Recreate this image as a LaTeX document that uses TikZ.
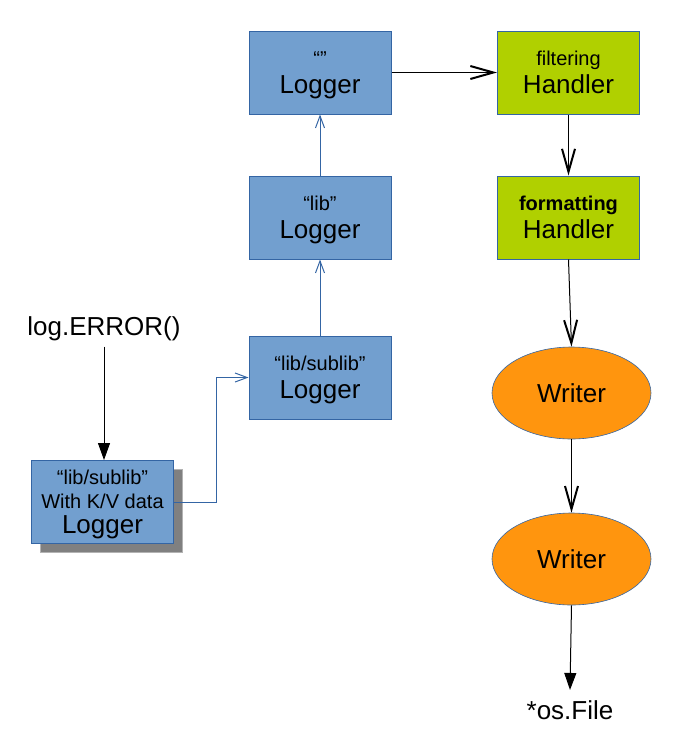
\documentclass[tikz,border=0pt]{standalone}
\usepackage{fontspec}
\setmainfont{Liberation Sans}
\usetikzlibrary{arrows.meta,shapes.geometric,shadows}

\definecolor{loggerblue}{HTML}{729FCF}
\definecolor{loggeredge}{HTML}{3465A4}
\definecolor{handlergreen}{HTML}{B0D000}
\definecolor{writerorange}{HTML}{FF950E}
\definecolor{shadowgray}{HTML}{808080}
\definecolor{shadowedge}{HTML}{B3B3B3}

\newcommand{\smallfont}{\fontsize{20}{23}\selectfont}
\newcommand{\bigfont}{\fontsize{26}{28}\selectfont}
% small upper line of a box, with room for ascenders and descenders
\newcommand{\boxtitle}[1]{{\smallfont\vphantom{fg}#1}}

\tikzset{
  logger/.style={rectangle, draw=loggeredge, fill=loggerblue, line width=1pt,
    minimum width=142pt, minimum height=83pt, inner sep=0pt, align=center,
    text depth=0pt, font=\bigfont},
  handler/.style={logger, fill=handlergreen},
  writer/.style={ellipse, draw=loggeredge, fill=writerorange, line width=0.6pt,
    minimum width=159pt, minimum height=92pt, inner sep=0pt, font=\bigfont},
  calltext/.style={font=\bigfont, anchor=base},
  flow/.style={line width=1pt, -{Straight Barb[length=23pt,width=13pt,line width=2pt]}},
  uplink/.style={draw=loggeredge, line width=1pt, -{Straight Barb[length=12pt,width=9pt,line width=1pt]}},
  callarrow/.style={line width=1pt, -{Triangle[length=17pt,width=12pt]}},
  kvshadow/.style={general shadow={shadow xshift=9pt, shadow yshift=-9pt, fill=shadowgray, draw=shadowedge}}
}

\begin{document}
\begin{tikzpicture}[x=1pt,y=-1pt]
  \useasboundingbox (0,0) rectangle (699,748);
  % logger chain
  \node[logger] (rootlog) at (320,72.5) {\boxtitle{“”}\\Logger};
  \node[logger] (liblog) at (320,217.5) {\boxtitle{“lib”}\\Logger};
  \node[logger] (sublog) at (320,377.5) {\boxtitle{“lib/sublib”}\\Logger};
  \node[logger, kvshadow] (kvlog) at (102.5,502)
    {\boxtitle{“lib/sublib”}\\[-4pt]\boxtitle{With K/V data}\\[-3pt]Logger};
  % handlers and writers
  \node[handler] (filt) at (568.5,72.5) {\boxtitle{filtering}\\Handler};
  \node[handler] (fmt) at (568.5,217.5) {\boxtitle{\bfseries formatting}\\Handler};
  \node[writer] (wr1) at (571.5,393) {Writer};
  \node[writer] (wr2) at (571.5,559) {Writer};
  % call site and sink
  \node[calltext, inner sep=6pt] (err) at (104,335) {log.ERROR()};
  \node[calltext, inner sep=10pt] (osfile) at (570,719) {*os.File};

  % connectors
  \draw[callarrow] (err.south) -- (err.south |- kvlog.north);
  \draw[uplink] (kvlog.east) -- ++(42,0) |- (sublog.west);
  \draw[uplink] (sublog) -- (liblog);
  \draw[uplink] (liblog) -- (rootlog);
  \draw[flow] (rootlog) -- (filt);
  \draw[flow] (filt) -- (fmt);
  \draw[flow] (fmt.south) -- (wr1.north);
  \draw[flow] (wr1) -- (wr2);
  \draw[callarrow] (wr2.south) -- (osfile.north);
\end{tikzpicture}
\end{document}
